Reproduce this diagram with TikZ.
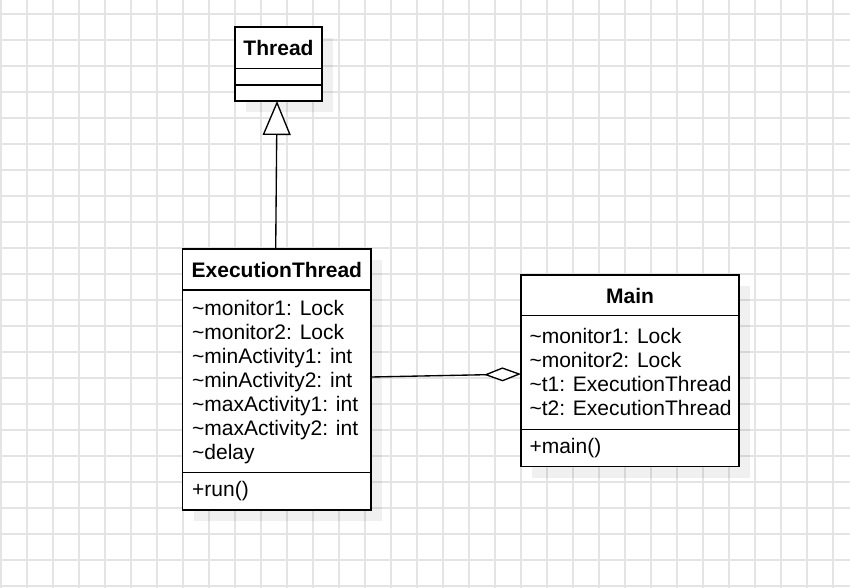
\documentclass[tikz,border=0pt]{standalone}
\usepackage{fontspec}
\setmainfont{Liberation Sans}
\usetikzlibrary{arrows.meta,shadows}
\definecolor{gridc}{RGB}{228,228,228}
\begin{document}
\begin{tikzpicture}[x=1pt,y=-1pt,
  gridline/.style={draw=gridc, line width=1.1pt},
  classbox/.style={draw=black, line width=1.35pt, fill=white, inner sep=0pt, outer sep=0pt,
    anchor=north west,
    drop shadow={shadow xshift=11pt, shadow yshift=-11pt, fill=black, opacity=0.06}},
  divider/.style={draw=black, line width=1.35pt},
  titletext/.style={inner sep=0pt, anchor=base, font=\fontsize{21}{24}\selectfont\bfseries},
  membertext/.style={inner sep=0pt, anchor=base west, font=\fontsize{21}{24}\selectfont},
  conn/.style={draw=black, line width=1.35pt}
]
\useasboundingbox (0,0) rectangle (850,588);
\fill[white] (0,0) rectangle (850,588);
% grid
\foreach \x in {1,27,...,850} \draw[gridline] (\x,0) -- (\x,588);
\foreach \y in {14,40,...,588} \draw[gridline] (0,\y) -- (850,\y);

% Thread
\node[classbox, minimum width=87pt, minimum height=74pt] (thread) at (235,27) {};
\draw[divider] (235,68.3) -- (322,68.3);
\draw[divider] (235,85) -- (322,85);
\node[titletext] (threadtitle) at (278.5,55.5) {Thread};

% ExecutionThread
\node[classbox, minimum width=188.3pt, minimum height=261pt] (ex) at (182.7,249) {};
\draw[divider] (182.7,290) -- (371,290);
\draw[divider] (182.7,472.7) -- (371,472.7);
\node[titletext] (extitle) at (276.85,277.5) {ExecutionThread};
\node[membertext] (exa1) at (192,315) {\textasciitilde monitor1: Lock};
\node[membertext] (exa2) at (192,339) {\textasciitilde monitor2: Lock};
\node[membertext] (exa3) at (192,363) {\textasciitilde minActivity1: int};
\node[membertext] (exa4) at (192,387) {\textasciitilde minActivity2: int};
\node[membertext] (exa5) at (192,411) {\textasciitilde maxActivity1: int};
\node[membertext] (exa6) at (192,435) {\textasciitilde maxActivity2: int};
\node[membertext] (exa7) at (192,459) {\textasciitilde delay};
\node[membertext] (exm1) at (192,496.7) {+run()};

% Main
\node[classbox, minimum width=218pt, minimum height=191.7pt] (main) at (521,275) {};
\draw[divider] (521,315.7) -- (739,315.7);
\draw[divider] (521,429.3) -- (739,429.3);
\node[titletext] (maintitle) at (630,303.5) {Main};
\node[membertext] (ma1) at (529.3,343) {\textasciitilde monitor1: Lock};
\node[membertext] (ma2) at (529.3,367) {\textasciitilde monitor2: Lock};
\node[membertext] (ma3) at (529.3,391) {\textasciitilde t1: ExecutionThread};
\node[membertext] (ma4) at (529.3,415) {\textasciitilde t2: ExecutionThread};
\node[membertext] (mm1) at (529.3,453.3) {+main()};

% connectors
\draw[conn, -{Triangle[open, fill=white, length=34pt, width=28pt]}]
  ([xshift=-1.15pt]ex.north) -- ([xshift=-1.5pt]thread.south);
\draw[conn, -{Diamond[open, fill=white, length=37pt, width=14pt]}]
  ([yshift=2.5pt]ex.east) -- ([yshift=-3.15pt]main.west);
\end{tikzpicture}
\end{document}
